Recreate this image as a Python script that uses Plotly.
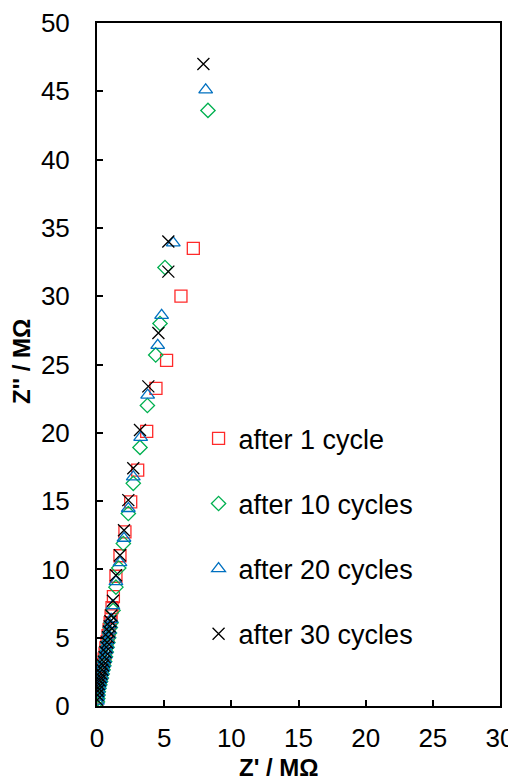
import plotly.graph_objects as go

names = ["after 1 cycle", "after 10 cycles", "after 20 cycles", "after 30 cycles"]

# after 1 cycle (Z', Z'') in MΩ
x1 = [0.00, 0.02, 0.05, 0.12, 0.20, 0.29, 0.37, 0.45, 0.53, 0.60, 0.66, 0.74, 0.82, 0.90,
      0.98, 1.05, 1.12, 1.22, 1.41, 1.71, 2.08, 2.51, 3.03, 3.70, 4.39, 5.18, 6.25, 7.17]
y1 = [0.65, 0.95, 1.30, 1.65, 2.00, 2.35, 2.70, 3.05, 3.45, 3.85, 4.25, 4.70, 5.15, 5.60,
      6.10, 6.60, 7.20, 8.00, 9.50, 11.00, 12.74, 14.94, 17.27, 20.10, 23.25, 25.30, 30.00, 33.50]

# after 10 cycles
x2 = [0.04, 0.06, 0.08, 0.10, 0.15, 0.21, 0.27, 0.33, 0.39, 0.45, 0.51, 0.57, 0.63, 0.69,
      0.75, 0.81, 0.87, 0.93, 0.99, 1.05, 1.20, 1.41, 1.62, 1.96, 2.33, 2.70, 3.20, 3.75,
      4.37, 4.69, 5.06, 8.26]
y2 = [0.30, 0.55, 0.80, 1.05, 1.30, 1.55, 1.80, 2.05, 2.35, 2.65, 2.95, 3.25, 3.60, 3.95,
      4.30, 4.65, 5.00, 5.35, 5.75, 6.10, 7.00, 8.70, 10.10, 11.90, 14.09, 16.30, 18.93, 22.00,
      25.70, 28.00, 32.10, 43.60]

# after 20 cycles
x3 = [0.03, 0.05, 0.07, 0.09, 0.14, 0.20, 0.26, 0.32, 0.38, 0.44, 0.50, 0.56, 0.62, 0.68,
      0.74, 0.80, 0.86, 0.92, 0.98, 1.05, 1.18, 1.41, 1.71, 2.01, 2.33, 2.70, 3.25, 3.77,
      4.52, 4.81, 5.68, 8.09]
y3 = [0.35, 0.65, 0.95, 1.20, 1.45, 1.70, 1.95, 2.20, 2.50, 2.80, 3.10, 3.40, 3.75, 4.10,
      4.45, 4.80, 5.20, 5.55, 5.95, 6.35, 7.35, 9.10, 10.50, 12.28, 14.46, 16.78, 19.66, 22.76,
      26.40, 28.60, 33.90, 45.10]

# after 30 cycles
x4 = [0.02, 0.04, 0.06, 0.07, 0.13, 0.20, 0.26, 0.32, 0.39, 0.45, 0.51, 0.57, 0.63, 0.69,
      0.75, 0.82, 0.88, 0.94, 1.00, 1.07, 1.19, 1.41, 1.71, 2.01, 2.33, 2.70, 3.20, 3.82,
      4.57, 5.31, 5.31, 7.92]
y4 = [0.45, 0.80, 1.10, 1.33, 1.60, 1.87, 2.10, 2.36, 2.65, 2.97, 3.25, 3.58, 3.95, 4.31,
      4.65, 5.04, 5.45, 5.83, 6.20, 6.63, 7.70, 9.57, 11.03, 12.87, 15.07, 17.40, 20.20, 23.40,
      27.30, 31.80, 34.00, 47.00]

x_ticks = [0, 5, 10, 15, 20, 25, 30]
y_ticks = [0, 5, 10, 15, 20, 25, 30, 35, 40, 45, 50]
x_title = "Z' / MΩ"
y_title = "Z'' / MΩ"

series = [
    (x1, y1, "square-open", "#FF2A2A", 12),
    (x2, y2, "diamond-open", "#00B050", 11),
    (x3, y3, "triangle-up-open", "#0070C0", 12),
    (x4, y4, "x-thin-open", "#000000", 12),
]

FONT = "Arial, 'Liberation Sans', sans-serif"

fig = go.Figure()
for i, (xs, ys, sym, col, sz) in enumerate(series):
    fig.add_trace(go.Scatter(
        x=xs, y=ys, mode="markers", name=names[i], legendgroup=f"g{i}",
        marker=dict(symbol=sym, size=sz, color=col, line=dict(color=col, width=1.3)),
    ))

axis_common = dict(
    showline=True, linecolor="black", linewidth=2, mirror=True,
    ticks="inside", ticklen=6, tickwidth=2, tickcolor="black",
    showgrid=False, zeroline=False, automargin=False,
    tickfont=dict(family=FONT, size=26, color="black"),
)

# the page body adds an 8px offset, so the figure is 8px smaller than the window
fig.update_layout(
    width=508, height=773,
    margin=dict(l=89, r=16, t=15, b=75),
    paper_bgcolor="white", plot_bgcolor="white",
    font=dict(family=FONT, color="black"),
    showlegend=True,
    legend=dict(
        x=0.252, y=0.427, xanchor="left", yanchor="top",
        font=dict(family=FONT, size=27, color="black"),
        bgcolor="rgba(0,0,0,0)", tracegroupgap=27, itemwidth=30,
        traceorder="grouped",
    ),
    xaxis=dict(
        range=[0, 30], tickvals=x_ticks, ticktext=[str(v) for v in x_ticks],
        ticklabelstandoff=8,
        **axis_common,
    ),
    yaxis=dict(
        range=[0, 50], tickvals=y_ticks, ticktext=[str(v) for v in y_ticks],
        ticklabelstandoff=20,
        **axis_common,
    ),
    annotations=[
        dict(text=f"<b>{x_title}</b>", xref="paper", yref="paper", x=0.4516, y=-0.0902,
             xanchor="center", yanchor="middle", showarrow=False,
             font=dict(family=FONT, size=24, color="black")),
        dict(text=f"<b>{y_title}</b>", xref="paper", yref="paper", x=-0.186, y=0.5037,
             xanchor="center", yanchor="middle", showarrow=False, textangle=-90,
             font=dict(family=FONT, size=24, color="black")),
    ],
)

fig.write_html("out.html")
